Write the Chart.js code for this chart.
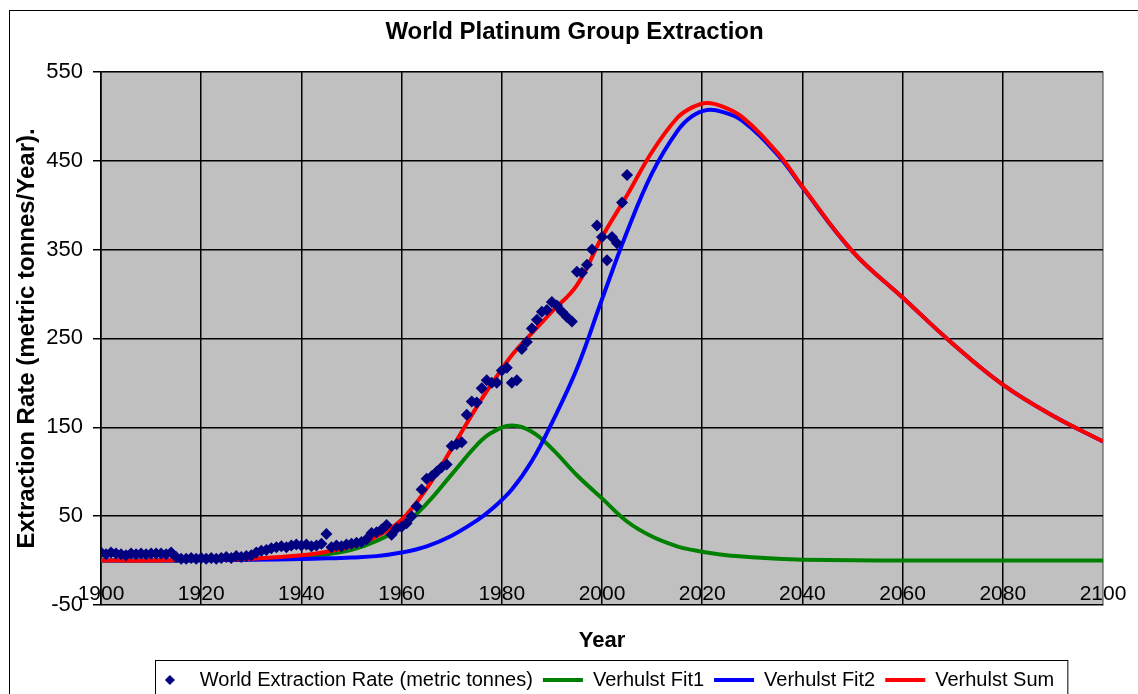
<!DOCTYPE html>
<html>
<head>
<meta charset="utf-8">
<title>World Platinum Group Extraction</title>
<script src="https://cdn.jsdelivr.net/npm/chart.js@4.4.1/dist/chart.umd.min.js"></script>
<style>
  html, body { margin: 0; padding: 0; background: #fff; }
  canvas { display: block; }
</style>
</head>
<body>
<canvas id="chart" width="1138" height="694"></canvas>
<script>
// measured extraction, one point per year
const extractionYears = [
  1900, 1901, 1902, 1903, 1904, 1905, 1906, 1907, 1908, 1909,
  1910, 1911, 1912, 1913, 1914, 1915, 1916, 1917, 1918, 1919,
  1920, 1921, 1922, 1923, 1924, 1925, 1926, 1927, 1928, 1929,
  1930, 1931, 1932, 1933, 1934, 1935, 1936, 1937, 1938, 1939,
  1940, 1941, 1942, 1943, 1944, 1945, 1946, 1947, 1948, 1949,
  1950, 1951, 1952, 1953, 1954, 1955, 1956, 1957, 1958, 1959,
  1960, 1961, 1962, 1963, 1964, 1965, 1966, 1967, 1968, 1969,
  1970, 1971, 1972, 1973, 1974, 1975, 1976, 1977, 1978, 1979,
  1980, 1981, 1982, 1983, 1984, 1985, 1986, 1987, 1988, 1989,
  1990, 1991, 1992, 1993, 1994, 1995, 1996, 1997, 1998, 1999,
  2000, 2001, 2002, 2003, 2004, 2005
];
const extractionRate = [
  9, 7, 9, 8, 7, 6, 8, 7, 8, 7,
  8, 8, 8, 7, 9, 4, 2, 2, 3, 2,
  3, 2, 3, 2, 3, 4, 3, 5, 4, 5,
  6, 9, 11, 12, 14, 15, 16, 15, 17, 18,
  17, 18, 16, 17, 19, 30, 15, 17, 16, 18,
  19, 20, 21, 24, 31, 32, 35, 40, 29, 36,
  38, 42, 50, 61, 80, 92, 95, 100, 105, 108,
  129, 131, 133, 164, 179, 178, 194, 203, 200, 200,
  214, 217, 200, 203, 238, 246, 261, 271, 280, 282,
  291, 287, 280, 274, 269, 325, 324, 333, 350, 377,
  364, 338, 364, 357, 403, 434
];

// fitted curves
const curveYears = [
  1900, 1910, 1920, 1930, 1940, 1945, 1950, 1955, 1960, 1965,
  1970, 1975, 1978, 1982, 1986, 1990, 1995, 2000, 2005, 2010,
  2015, 2018, 2021, 2024, 2028, 2035, 2040, 2050, 2060, 2070,
  2080, 2090, 2100
];
const verhulstFit1 = [
  0, 0, 0.5, 1.5, 4, 7, 12, 22, 38, 64,
  97, 130, 144, 152, 145, 126, 96, 70, 44, 27,
  16, 12, 9, 6.5, 4.5, 2, 1, 0.3, 0, 0,
  0, 0, 0
];
const verhulstFit2 = [
  0, 0, 0.3, 0.8, 1.8, 2.5, 3.5, 5, 9, 16,
  28, 45, 58, 80, 112, 155, 216, 294, 370, 436,
  483, 500, 507, 505, 495, 457, 420, 348, 296, 244,
  198, 163, 134
];
const verhulstSum = [
  0, 0, 1, 2, 6, 10, 16, 27, 46, 81,
  126, 173, 199, 231, 256, 280, 310, 364, 411, 460,
  498, 510, 515, 511, 499, 459, 421, 348, 296, 244,
  198, 163, 134
];

const xTicks = [1900, 1920, 1940, 1960, 1980, 2000, 2020, 2040, 2060, 2080, 2100];
const yTicks = [-50, 50, 150, 250, 350, 450, 550];

const FONT = "'Liberation Sans', Arial, sans-serif";
const toPoints = (xs, ys) => xs.map((x, i) => ({ x, y: ys[i] }));

// small navy diamond for the legend entry
const diamondIcon = document.createElement("canvas");
diamondIcon.width = 10;
diamondIcon.height = 10;
{
  const g = diamondIcon.getContext("2d");
  g.fillStyle = "#000080";
  g.beginPath();
  g.moveTo(5, 0);
  g.lineTo(10, 5);
  g.lineTo(5, 10);
  g.lineTo(0, 5);
  g.closePath();
  g.fill();
}

const frame = {
  id: "frame",
  afterLayout(chart) {
    // title sits centred on the whole sheet, not on the narrower plot block
    chart.titleBlock.right = chart.width + 11;
  },
  beforeDraw(chart) {
    const { ctx, chartArea: a } = chart;
    ctx.save();
    ctx.fillStyle = "#fff";
    ctx.fillRect(0, 0, chart.width, chart.height);
    ctx.strokeStyle = "#000";
    ctx.lineWidth = 1;
    ctx.strokeRect(9.5, 10.5, chart.width + 20, chart.height + 20);
    ctx.fillStyle = "#c0c0c0";
    ctx.fillRect(a.left, a.top, a.right - a.left, a.bottom - a.top);
    ctx.strokeStyle = "#808080";
    ctx.strokeRect(a.left, a.top, a.right - a.left, a.bottom - a.top);
    ctx.restore();
  },
  afterDraw(chart) {
    const boxes = chart.legend.legendHitBoxes;
    if (!boxes || !boxes.length) return;
    const { ctx } = chart;
    const left = Math.min(...boxes.map((b) => b.left)) + 5;
    const right = Math.max(...boxes.map((b) => b.left + b.width)) + 13;
    const top = boxes[0].top - 10;
    ctx.save();
    ctx.strokeStyle = "#000";
    ctx.lineWidth = 1;
    ctx.strokeRect(Math.round(left) + 0.5, Math.round(top) + 0.5, right - left, chart.height);
    ctx.restore();
  },
};

const curveStyle = {
  showLine: true,
  borderWidth: 4,
  pointRadius: 0,
  pointStyle: "line",
  tension: 0.4,
};

const ctx = document.getElementById("chart").getContext("2d");

new Chart(ctx, {
  type: "scatter",
  data: {
    datasets: [
      {
        label: "World Extraction Rate (metric tonnes)",
        data: toPoints(extractionYears, extractionRate),
        backgroundColor: "#000080",
        borderWidth: 0,
        pointStyle: "rectRot",
        pointRadius: 6,
        order: 0,
      },
      {
        ...curveStyle,
        label: "Verhulst Fit1",
        data: toPoints(curveYears, verhulstFit1),
        borderColor: "#008000",
        backgroundColor: "#008000",
        order: 3,
      },
      {
        ...curveStyle,
        label: "Verhulst Fit2",
        data: toPoints(curveYears, verhulstFit2),
        borderColor: "#0000ff",
        backgroundColor: "#0000ff",
        order: 2,
      },
      {
        ...curveStyle,
        label: "Verhulst Sum",
        data: toPoints(curveYears, verhulstSum),
        borderColor: "#ff0000",
        backgroundColor: "#ff0000",
        order: 1,
      },
    ],
  },
  options: {
    responsive: false,
    animation: false,
    layout: { padding: { left: 0, right: 35, top: 0, bottom: -6 } },
    plugins: {
      tooltip: { enabled: false },
      title: {
        display: true,
        text: "World Platinum Group Extraction",
        color: "#000",
        font: { family: FONT, size: 24, weight: "bold" },
        padding: { top: 18, bottom: 25 },
      },
      legend: {
        position: "bottom",
        fullSize: false,
        labels: {
          color: "#000",
          font: { family: FONT, size: 20 },
          usePointStyle: true,
          pointStyleWidth: 40,
          padding: 10,
          sort: (a, b) => a.datasetIndex - b.datasetIndex,
          generateLabels(chart) {
            const items = Chart.defaults.plugins.legend.labels.generateLabels(chart);
            items.forEach((item) => {
              if (item.datasetIndex === 0) item.pointStyle = diamondIcon;
            });
            return items;
          },
        },
      },
    },
    scales: {
      x: {
        type: "linear",
        min: 1900,
        max: 2100,
        afterBuildTicks: (scale) => {
          scale.ticks = xTicks.map((value) => ({ value }));
        },
        afterFit: (scale) => {
          scale.height = 55;
        },
        grid: {
          color: (c) => (c.tick && c.tick.value === 2100 ? "#808080" : "#000"),
          lineWidth: 1.5,
          drawTicks: false,
        },
        border: { color: "#808080", width: 1 },
        ticks: {
          color: "#000",
          font: { family: FONT, size: 21 },
          mirror: true,
          padding: -2,
          maxRotation: 0,
          autoSkip: false,
          callback: (v) => String(v),
        },
        title: {
          display: true,
          text: "Year",
          color: "#000",
          font: { family: FONT, size: 22, weight: "bold" },
          padding: { top: 0, bottom: 6 },
        },
      },
      y: {
        min: -50,
        max: 550,
        afterBuildTicks: (scale) => {
          scale.ticks = yTicks.map((value) => ({ value }));
        },
        afterFit: (scale) => {
          scale.width = 101;
        },
        grid: {
          color: "#000",
          lineWidth: 1.5,
          tickLength: 8,
          tickColor: "#000",
        },
        border: { color: "#000", width: 1.5 },
        ticks: {
          color: "#000",
          font: { family: FONT, size: 22 },
          padding: 10,
          callback: (v) => String(v),
        },
        title: {
          display: true,
          text: "Extraction Rate (metric tonnes/Year).",
          color: "#000",
          font: { family: FONT, size: 24, weight: "bold" },
          padding: { top: 13, bottom: 0 },
        },
      },
    },
  },
  plugins: [frame],
});
</script>
</body>
</html>
